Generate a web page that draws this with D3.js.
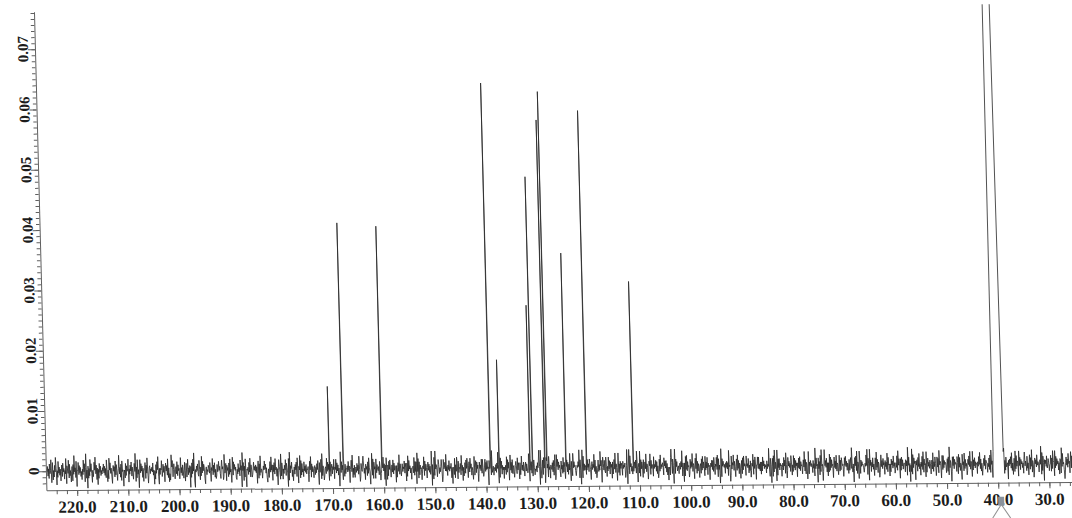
<!DOCTYPE html>
<html>
<head>
<meta charset="utf-8">
<script src="https://cdn.jsdelivr.net/npm/d3@7"></script>
<style>
  html, body { margin: 0; padding: 0; background: #ffffff; }
  svg { display: block; }
</style>
</head>
<body>
<svg id="chart" width="1072" height="518"></svg>
<script>
// 13C NMR spectrum — resolved lines: chemical shift (ppm) and intensity
const peakShifts  = [170.6, 167.9, 160.3, 139.1, 137.4, 131.35, 130.9, 128.45, 128.06, 124.3, 120.3, 111.2];
const peakHeights = [0.0137, 0.0408, 0.0402, 0.0638, 0.0179, 0.0269, 0.0482, 0.0576, 0.0623, 0.0355, 0.0591, 0.0307];

// solvent (DMSO-d6) envelope; it runs far off the top of the scale
const solventShifts  = [40.84, 40.62, 40.1, 39.6, 38.86];
const solventHeights = [0.002, 0.12, 0.40, 0.12, 0.002];

// baseline noise: one digit per point of the ppm grid, each digit picks a level
const noiseStart = 225.8;
const noiseStep = 0.1005;
const noiseLevels = [-0.0019, -0.0012, -0.0008, -0.0004, -0.0001, 0.0001, 0.0004, 0.0008, 0.0012, 0.0019];
const noiseDigits = [
  "47261835903815274960519372604828461539076391825047",
  "17394628055928371406384716925071629483052485937160",
  "60938152748372619405195836204747192850369362718450",
  "35182746906284917305749162835029384716055817394026",
  "82647391504173859206265914837058472916031396825740",
  "57291846039362751480481592637062738491053748219506",
  "29384761057153862940649273815018359472068561293470",
  "74618293503928574610528361947094716283054628391750",
  "15947382606817293540374958261025168394707382946150",
  "48631927505274918630819365724036274819506491827350",
  "93728154602849173650571628493073481926501562938470",
  "38157264906492837150293746185081547293604683915270",
  "56283719401743896250746182953035928174609274361850",
  "24859371608316274950472918365061573928403826491750",
  "71938462504562918370938172645026491837505837261490",
  "63182947503971526840184573926073926481504528163970",
  "82547193605137284960682947153039158274602746381950",
  "16928374507458291360352718496091847263505361928470",
  "49372815602685193740714936285058274139608372615940",
  "32618479509513728460287461935064372815901958374620",
  "83619274055827163940731948562026485917305918372640",
  "29471863057364928150148263957048637219505293817460",
  "71583926404926183750836471259036928471505148372960",
  "46291837508157392640275918364093648271501829364750",
  "95837261403418962750692748135057284916306183927450",
  "18374926505839172640461829375092738164503647281950",
  "64928173502917485360738261945018365927404829371650",
  "37182946509463815270264917385055839261707194826350",
  "82649317504718293650917382645036284719502847361950",
  "51938274606382917450483927165029174836508261937450",
  "73618294502594738160619283745048372916503917286450",
  "28493716508167394250374829165096183745202638491750",
  "94716382504829371650159372846073629184505184729360",
  "16382947507293815640836194725042918375606471839250",
  "63829174509148362750472916385028371946503819274650",
  "48271936502739184650961837254084619273501748392650",
  "91738264506384927150248391765053728194607293846150",
  "25849371608916273450637482915047192836509381746250",
  "79364182505827391640184729365036491827506472913850",
  "34817296509283746150761938452015837294606928371450"
].join("");

// local noise amplitude, one digit per 1 ppm block
const ampLevels = [0.55, 0.65, 0.75, 0.85, 0.95, 1.0, 1.1, 1.2, 1.35, 1.5];
const ampDigits = [
  "57364829571463852946173582649371528463951726483957",
  "16284539172648359271648539271846357291846352719846",
  "35729164835729184635279184653729184635721984635271",
  "98463529718463527198463572918463527198463572916483",
  "5"
].join("");

const xMajorTicks = [220, 210, 200, 190, 180, 170, 160, 150, 140, 130, 120, 110, 100, 90, 80, 70, 60, 50, 40, 30];
const yMajorTicks = [0, 0.01, 0.02, 0.03, 0.04, 0.05, 0.06, 0.07];
const xMinorTicks = d3.range(224, 25, -2);
const yMinorTicks = d3.range(-2, 77).map(v => v / 1000);

const svg = d3.select("#chart");

// the whole plot sits on a faint shear / tilt
const shearX = 0.026, tiltY = -0.008, pivotX = 520, pivotY = 480;
const plot = svg.append("g")
  .attr("transform", `matrix(1,${tiltY},${shearX},1,${-shearX * pivotY},${-tiltY * pivotX})`);

const x = d3.scaleLinear().domain([226, 25]).range([46.24, 1074.75]);
const y = d3.scaleLinear().domain([-0.00315, 0.0762]).range([486.5, 8]);

// assemble the trace: noise grid plus the line apexes, ordered by shift
const points = [];
for (let i = 0; i < noiseDigits.length; i++) {
  const ppm = noiseStart - i * noiseStep;
  if (ppm < 40.84 && ppm > 38.86) continue;
  const amp = ampLevels[+ampDigits[Math.floor(noiseStart - ppm)]];
  points.push([ppm, noiseLevels[+noiseDigits[i]] * amp]);
}
peakShifts.forEach((p, i) => points.push([p, peakHeights[i]]));
solventShifts.forEach((p, i) => points.push([p, solventHeights[i]]));
points.sort((a, b) => b[0] - a[0]);

svg.append("defs").append("clipPath").attr("id", "plotClip")
  .append("rect")
  .attr("x", x(226)).attr("y", y(0.0762))
  .attr("width", 1100).attr("height", 600);

const line = d3.line().x(d => x(d[0])).y(d => y(d[1]));

plot.append("path")
  .datum(points)
  .attr("clip-path", "url(#plotClip)")
  .attr("fill", "none")
  .attr("stroke", "#262626")
  .attr("stroke-width", 0.8)
  .attr("stroke-linejoin", "miter")
  .attr("d", line);

// y axis: major and minor ticks
const axisColor = "#606060";
const yAxisG = plot.append("g").attr("transform", `translate(${x(226)},0)`);
yAxisG.call(d3.axisLeft(y).tickValues(yMinorTicks).tickSize(3.5).tickSizeOuter(0).tickFormat(""));
yAxisG.append("g").call(d3.axisLeft(y).tickValues(yMajorTicks).tickSize(7).tickSizeOuter(0).tickFormat(""))
  .select(".domain").remove();
yAxisG.selectAll("path, line").attr("stroke", axisColor).attr("stroke-width", 1);

plot.append("g").selectAll("text")
  .data(yMajorTicks)
  .join("text")
  .attr("transform", d => `translate(34,${y(d)}) rotate(-90)`)
  .attr("dy", "0.35em")
  .attr("text-anchor", "middle")
  .attr("font-family", "'Liberation Serif', 'DejaVu Serif', serif")
  .attr("font-weight", "bold")
  .attr("font-size", 15)
  .attr("fill", "#1c1c1c")
  .text(d => d === 0 ? "0" : d.toFixed(2));

// x axis: chemical shift, decreasing to the right
const xAxisG = plot.append("g").attr("transform", `translate(0,${y(-0.00315)})`);
xAxisG.call(d3.axisBottom(x).tickValues(xMinorTicks).tickSize(4).tickSizeOuter(0).tickFormat(""));
xAxisG.append("g").call(d3.axisBottom(x).tickValues(xMajorTicks).tickSize(6).tickSizeOuter(0).tickFormat(""))
  .select(".domain").remove();
xAxisG.selectAll("path, line").attr("stroke", axisColor).attr("stroke-width", 1);

plot.append("g").selectAll("text")
  .data(xMajorTicks)
  .join("text")
  .attr("x", d => x(d))
  .attr("y", 509)
  .attr("text-anchor", "middle")
  .attr("font-family", "'Liberation Serif', 'DejaVu Serif', serif")
  .attr("font-weight", "bold")
  .attr("font-size", 17)
  .attr("fill", "#1c1c1c")
  .text(d => d.toFixed(1));

// solvent reference marker under the axis
const solventCentre = 39.5;
const mk = plot.append("g").attr("transform", `translate(${x(solventCentre)},0)`);
mk.append("line").attr("x1", -0.5).attr("y1", 509).attr("x2", -9).attr("y2", 522)
  .attr("stroke", "#8f8f8f").attr("stroke-width", 1);
mk.append("line").attr("x1", 0.5).attr("y1", 509).attr("x2", 9).attr("y2", 522)
  .attr("stroke", "#8f8f8f").attr("stroke-width", 1);
mk.append("rect").attr("x", -3).attr("y", 500.5).attr("width", 6).attr("height", 9)
  .attr("fill", "#8a929c");
</script>
</body>
</html>
